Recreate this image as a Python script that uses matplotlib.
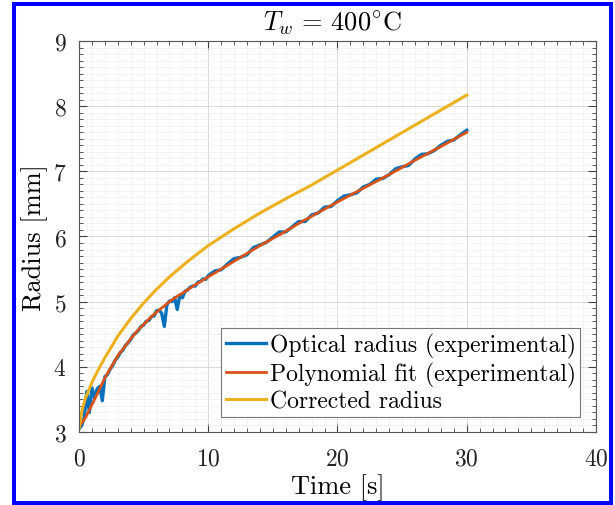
import numpy as np
import matplotlib
matplotlib.use('Agg')
import matplotlib.pyplot as plt
from matplotlib.patches import Rectangle
from matplotlib.ticker import MultipleLocator

plt.rcParams['font.family'] = 'serif'
plt.rcParams['font.serif'] = ['cmr10']
plt.rcParams['mathtext.fontset'] = 'cm'
plt.rcParams['axes.formatter.use_mathtext'] = True

# corrected radius (yellow)
t_corr = [0, 0.25, 0.5, 1, 1.5, 2, 3, 4, 5, 6, 7, 8, 9, 10, 12, 14, 16, 18, 20, 22, 24, 26, 28, 30]
r_corr = [3.05, 3.35, 3.52, 3.76, 3.96, 4.14, 4.47, 4.74, 4.98, 5.19, 5.38, 5.55, 5.71, 5.86,
          6.12, 6.36, 6.58, 6.79, 7.02, 7.25, 7.48, 7.71, 7.94, 8.17]

# polynomial fit (red)
t_fit = [0, 0.5, 1, 1.5, 2, 2.5, 3, 3.5, 4, 4.5, 5, 5.5, 6, 6.5, 7, 7.5, 8, 9, 10, 11, 12, 13, 14,
         15, 16, 17, 18, 19, 20, 22, 24, 26, 28, 30]
r_fit = [3.08, 3.22, 3.42, 3.62, 3.83, 4.00, 4.17, 4.30, 4.43, 4.55, 4.65, 4.75, 4.84, 4.92, 5.00,
         5.07, 5.13, 5.26, 5.38, 5.50, 5.62, 5.74, 5.86, 5.97, 6.08, 6.20, 6.31, 6.42, 6.53, 6.74,
         6.95, 7.17, 7.38, 7.60]

# optical radius (blue, experimental)
t_opt = np.concatenate([np.arange(0, 10.01, 0.2), np.arange(10.5, 30.01, 0.5)])
r_opt = [3.05, 3.10, 3.22, 3.62, 3.30, 3.68, 3.52, 3.66, 3.70, 3.48, 3.85, 3.88, 3.96, 4.02, 4.10,
         4.15, 4.22, 4.26, 4.33, 4.37, 4.42, 4.49, 4.52, 4.56, 4.62, 4.64, 4.70, 4.71, 4.77, 4.78,
         4.86, 4.87, 4.82, 4.62, 4.95, 5.01, 5.00, 5.06, 4.88, 5.10, 5.06, 5.16, 5.18, 5.22, 5.24,
         5.24, 5.30, 5.31, 5.35, 5.34, 5.40,
         5.47, 5.49, 5.58, 5.66, 5.68, 5.72, 5.83, 5.87, 5.91, 5.99, 6.07, 6.07, 6.15, 6.23, 6.23,
         6.33, 6.36, 6.45, 6.46, 6.55, 6.62, 6.64, 6.67, 6.76, 6.80, 6.88, 6.89, 6.95, 7.04, 7.07,
         7.09, 7.19, 7.26, 7.27, 7.32, 7.40, 7.46, 7.48, 7.56, 7.63]

fig = plt.figure(figsize=(6.15, 5.06), dpi=100)
ax = fig.add_axes([0.1285, 0.1443, 0.8405, 0.7727])

ax.plot(t_opt, r_opt, color='#0072BD', lw=2.4, label='Optical radius (experimental)')
ax.plot(t_fit, r_fit, color='#D95319', lw=2.0, label='Polynomial fit (experimental)')
ax.plot(t_corr, r_corr, color='#EDB120', lw=2.2, label='Corrected radius')

ax.set_xlim(0, 40)
ax.set_ylim(3, 9)
ax.xaxis.set_major_locator(MultipleLocator(10))
ax.xaxis.set_minor_locator(MultipleLocator(1))
ax.yaxis.set_major_locator(MultipleLocator(1))
ax.yaxis.set_minor_locator(MultipleLocator(0.1))
ax.grid(which='major', color='#d9d9d9', lw=0.7)
ax.grid(which='minor', color='#efefef', lw=0.5)
ax.set_axisbelow(True)
ax.tick_params(which='both', direction='in', top=True, right=True, colors='#404040',
               labelcolor='#222222', labelsize=17)
ax.tick_params(which='major', length=6)
ax.tick_params(which='minor', length=3)
ax.tick_params(axis='x', pad=11)
ax.tick_params(axis='y', pad=9)
for s in ax.spines.values():
    s.set_color('#555555')
    s.set_linewidth(0.8)

ax.set_xlabel('Time [s]', fontsize=19, labelpad=3)
ax.set_ylabel('Radius [mm]', fontsize=19, labelpad=4)
ax.set_title(r'$T_w\,=\,400^{\circ}\mathrm{C}$', fontsize=19, pad=8, x=0.49)

leg = ax.legend(loc='lower right', bbox_to_anchor=(0.97, 0.038), borderaxespad=0,
                fontsize=17, handlelength=1.7, handletextpad=0.15, borderpad=0.2,
                labelspacing=0.15, fancybox=False, framealpha=1, edgecolor='#777777')
leg.get_frame().set_linewidth(0.8)

fig.add_artist(Rectangle((14 / 615, 1 - 504 / 506), 597 / 615, 499 / 506,
                         transform=fig.transFigure, fill=False, edgecolor='#0000ff', lw=2.9))

fig.savefig('out.png', dpi=100)
